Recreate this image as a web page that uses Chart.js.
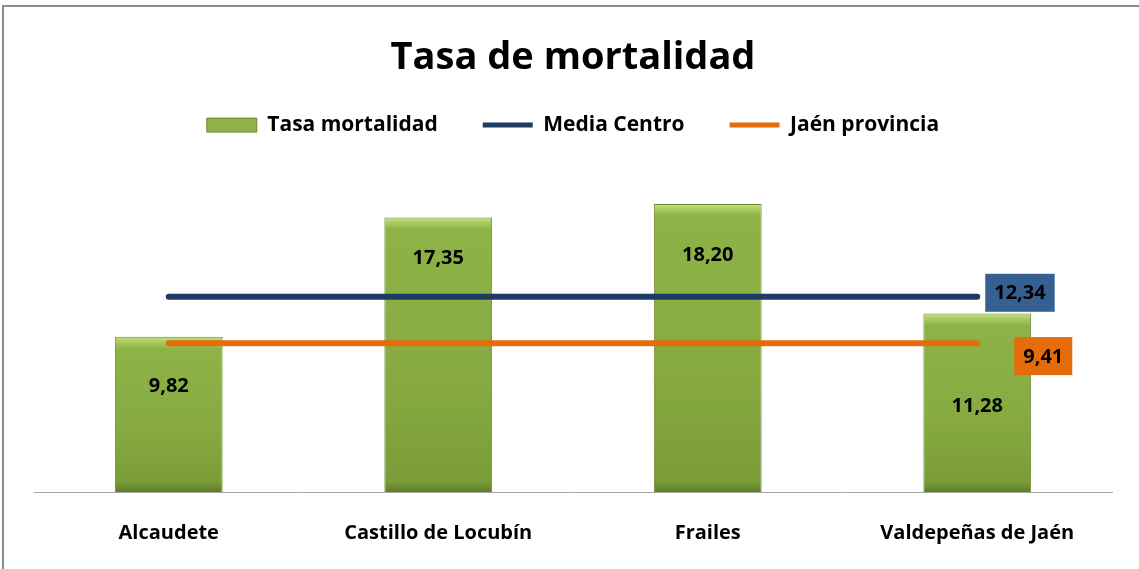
<!DOCTYPE html>
<html>
<head>
<meta charset="utf-8">
<script src="https://cdn.jsdelivr.net/npm/chart.js@4/dist/chart.umd.min.js"></script>
<style>
    body { margin: 0; background: #ffffff; overflow: hidden; }
    #wrap { position: relative; width: 1139px; height: 569px; }
    #frame { position: absolute; left: 2px; top: 5px; width: 1200px; height: 600px;
             border-top: 2px solid #8c8c8c; border-left: 2px solid #8c8c8c; pointer-events: none; }
</style>
</head>
<body>
<div id="wrap">
    <canvas id="mortality-canvas" width="1139" height="569"></canvas>
    <div id="frame"></div>
</div>
<script>
var FONT = "'Open Sans', Lato, sans-serif";

var municipalities = ['Alcaudete', 'Castillo de Locubín', 'Frailes', 'Valdepeñas de Jaén'];
var mortalityRate = [9.82, 17.35, 18.20, 11.28];
var centreAverage = [12.34, 12.34, 12.34, 12.34];
var provinceAverage = [9.41, 9.41, 9.41, 9.41];

function formatValue(v) {
    return v.toFixed(2).replace('.', ',');
}

// bevelled green fill, one gradient per bar
function barFill(context) {
    var chart = context.chart;
    if (!chart.chartArea || !chart.scales.y || context.type !== 'data') {
        return '#8bb043';
    }
    var top = chart.scales.y.getPixelForValue(context.raw);
    var bottom = chart.scales.y.getPixelForValue(0);
    var h = bottom - top;
    var g = chart.ctx.createLinearGradient(0, top, 0, bottom);
    g.addColorStop(0, '#c4e07e');
    g.addColorStop(Math.min(0.5, 7 / h), '#a2c45a');
    g.addColorStop(Math.min(0.6, 12 / h), '#8db347');
    g.addColorStop(0.6, '#86aa40');
    g.addColorStop(Math.max(0.7, 1 - 10 / h), '#7a9c39');
    g.addColorStop(1, '#5d7b2a');
    return g;
}

var valueLabels = {
    id: 'valueLabels',
    afterDatasetsDraw: function (chart, args, opts) {
        var ctx = chart.ctx;
        ctx.save();
        ctx.font = 'bold 20px ' + FONT;
        ctx.textAlign = 'center';
        ctx.textBaseline = 'middle';

        // values inside the bars
        var bars = chart.getDatasetMeta(0).data;
        bars.forEach(function (bar, i) {
            ctx.fillStyle = '#000000';
            ctx.fillText(formatValue(mortalityRate[i]), bar.x, bar.y + opts.barShift[i]);
        });

        // boxed values at the end of the two lines
        [1, 2].forEach(function (di) {
            var meta = chart.getDatasetMeta(di);
            var pt = meta.data[meta.data.length - 1];
            var ds = chart.data.datasets[di];
            var text = formatValue(ds.data[ds.data.length - 1]);
            var w = ctx.measureText(text).width + 18;
            var h = 38;
            var x = pt.x + opts.boxDx[di - 1];
            var y = pt.y + opts.boxDy[di - 1] - h / 2;
            ctx.fillStyle = opts.boxColor[di - 1];
            ctx.fillRect(x, y, w, h);
            ctx.fillStyle = '#000000';
            ctx.fillText(text, x + w / 2, y + h / 2 + 1);
        });
        ctx.restore();
    }
};

var mortalityConfig = {
    data: {
        labels: municipalities,
        datasets: [{
            type: 'bar',
            label: 'Tasa mortalidad',
            data: mortalityRate,
            backgroundColor: barFill,
            borderColor: '#6b8a32',
            borderWidth: 1,
            barPercentage: 0.8,
            categoryPercentage: 0.5,
            order: 3
        }, {
            type: 'line',
            label: 'Media Centro',
            data: centreAverage,
            borderColor: '#1f3a63',
            backgroundColor: '#1f3a63',
            borderWidth: 6,
            borderCapStyle: 'round',
            pointRadius: 0,
            order: 1
        }, {
            type: 'line',
            label: 'Jaén provincia',
            data: provinceAverage,
            borderColor: '#e46c0a',
            backgroundColor: '#e46c0a',
            borderWidth: 6,
            borderCapStyle: 'round',
            pointRadius: 0,
            order: 2
        }]
    },
    options: {
        responsive: false,
        animation: false,
        layout: {
            padding: { top: 0, left: 34, right: 27, bottom: -5 }
        },
        scales: {
            x: {
                offset: true,
                grid: { display: false, drawTicks: false },
                border: { display: true, color: '#a6a6a6', width: 1 },
                ticks: {
                    color: '#000000',
                    padding: 29,
                    maxRotation: 0,
                    font: { family: FONT, size: 20, weight: 'bold' }
                }
            },
            y: {
                display: false,
                min: 0,
                max: 20
            }
        },
        plugins: {
            title: {
                display: true,
                text: 'Tasa de mortalidad',
                color: '#000000',
                padding: { top: 35, bottom: -11 },
                font: { family: FONT, size: 38, weight: 'bold' }
            },
            legend: {
                labels: {
                    color: '#000000',
                    padding: 45,
                    usePointStyle: true,
                    pointStyleWidth: 50,
                    boxHeight: 14,
                    font: { family: FONT, size: 21, weight: 'bold' },
                    generateLabels: function (chart) {
                        var items = Chart.defaults.plugins.legend.labels.generateLabels(chart);
                        items.sort(function (a, b) { return a.datasetIndex - b.datasetIndex; });
                        items.forEach(function (item) {
                            if (item.datasetIndex === 0) {
                                item.pointStyle = 'rect';
                                item.fillStyle = '#8fb34a';
                                item.strokeStyle = '#6b8a32';
                                item.lineWidth = 1;
                            } else {
                                item.pointStyle = 'line';
                                item.lineWidth = 5;
                            }
                        });
                        return items;
                    }
                }
            },
            tooltip: { enabled: false },
            valueLabels: {
                barShift: [50, 41, 51, 93],
                boxDx: [8, 37],
                boxDy: [-4, 13],
                boxColor: ['#376092', '#e46c0a']
            }
        }
    },
    plugins: [valueLabels, {
        id: 'legendGap',
        beforeInit: function (chart) {
            var fit = chart.legend.fit;
            chart.legend.fit = function () {
                fit.bind(chart.legend)();
                this.height += 30;
            };
        }
    }]
};

var ctx = document.getElementById('mortality-canvas').getContext('2d');
window.mortalityChart = new Chart(ctx, mortalityConfig);
</script>
</body>
</html>
